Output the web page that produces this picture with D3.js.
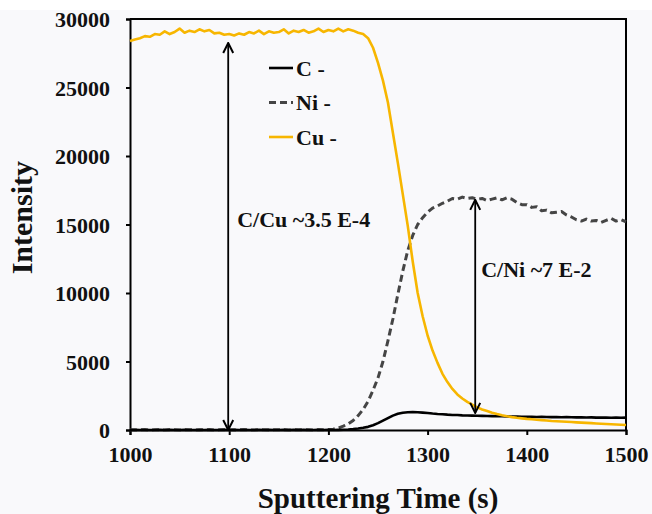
<!DOCTYPE html>
<html>
<head>
<meta charset="utf-8">
<script src="https://cdn.jsdelivr.net/npm/d3@7"></script>
<style>
  body { margin: 0; background: #ffffff; }
  svg { display: block; }
  .tick text { font-family: "Times New Roman", "Liberation Serif", Tinos, "DejaVu Serif", serif; font-weight: bold; font-size: 22px; fill: #111; }
  .lbl { font-family: "Times New Roman", "Liberation Serif", Tinos, "DejaVu Serif", serif; font-weight: bold; fill: #111; }
</style>
</head>
<body>
<div id="chart"></div>
<script>
// sputtering time (s), one reading every 5 s
let times = d3.range(101).map(i => 1000 + i * 5);

// Cu - counts
let cuValues = [
  28400, 28500, 28600, 28750, 28700, 28900, 28850, 29100, 28900, 29050,
  29300, 29000, 29150, 29050, 29250, 29100, 29200, 28950, 29000, 28850,
  28900, 28800, 28950, 28850, 29050, 28950, 29150, 28900, 29100, 29000,
  29050, 29250, 28950, 29150, 29050, 29200, 29000, 29100, 29300, 29050,
  29200, 29100, 29300, 29100, 29250, 29150, 29000, 28900, 28600, 27900,
  26800, 25500, 23900, 21700, 19500, 17200, 14900, 12300, 10000, 8300,
  6900, 5800, 4900, 4100, 3500, 3000, 2600, 2300, 2050, 1850,
  1650, 1500, 1380, 1260, 1160, 1070, 1000, 940, 890, 850,
  810, 780, 750, 720, 690, 660, 640, 620, 600, 580,
  560, 540, 520, 500, 480, 460, 440, 420, 400, 380, 360
];

// Ni - counts
let niValues = [
  10, 0, 20, 10, 0, 10, 20, 0, 10, 20,
  0, 10, 20, 10, 0, 20, 10, 0, 10, 20,
  10, 0, 20, 10, 10, 0, 20, 10, 0, 10,
  20, 10, 0, 20, 10, 20, 10, 0, 20, 10,
  30, 60, 150, 280, 450, 700, 1050, 1500, 2100, 2900,
  3800, 5000, 6500, 8100, 9900, 11600, 13100, 14200, 15000, 15500,
  15900, 16200, 16350, 16550, 16700, 16900, 16850, 17000, 16900, 16950,
  16850, 16900, 16750, 16850, 16950, 16800, 16950, 16850, 16600, 16450,
  16450, 16250, 16300, 16000, 16050, 15850, 15900, 15950, 15700, 15550,
  15350, 15250, 15400, 15250, 15300, 15150, 15300, 15450, 15250, 15350, 15200
];

// C - counts
let cValues = [
  0, 10, 0, 10, 0, 0, 10, 0, 10, 0,
  0, 10, 0, 0, 10, 0, 10, 0, 0, 10,
  0, 10, 0, 10, 0, 0, 10, 0, 10, 0,
  0, 10, 0, 10, 0, 10, 0, 0, 10, 0,
  10, 0, 10, 20, 40, 70, 110, 160, 230, 350,
  500, 680, 870, 1050, 1180, 1260, 1300, 1310, 1300, 1270,
  1240, 1200, 1170, 1150, 1120, 1100, 1090, 1070, 1060, 1050,
  1040, 1030, 1020, 1010, 1000, 1000, 990, 980, 980, 970,
  960, 970, 950, 960, 950, 940, 950, 930, 940, 930,
  920, 930, 910, 920, 900, 910, 900, 890, 900, 890, 900
];

let xTicks = [1000, 1100, 1200, 1300, 1400, 1500];
let yTicks = [0, 5000, 10000, 15000, 20000, 25000, 30000];

let seriesNames = ['C -', 'Ni -', 'Cu -'];
let seriesColors = ['#000000', '#454545', '#f7b600'];

// double-headed arrows: [time, from intensity, to intensity]
let arrowData = [[1099, 28250, 0], [1348, 16800, 1250]];
let noteTexts = ['C/Cu ~3.5 E-4', 'C/Ni ~7 E-2'];
let noteAnchors = [[1108, 14800], [1354, 11200]];

let width = 652, height = 514;
let margin = { top: 19, right: 26, bottom: 84, left: 130 };

let svg = d3.select('#chart')
  .append('svg')
  .attr('width', width)
  .attr('height', height);

svg.append('rect')
  .attr('x', 0).attr('y', 10)
  .attr('width', width).attr('height', height - 10)
  .attr('fill', '#f9f9fb');

let xScale = d3.scaleLinear()
  .domain([1000, 1500])
  .range([margin.left, width - margin.right]);

let yScale = d3.scaleLinear()
  .domain([0, 30000])
  .range([height - margin.bottom, margin.top]);

let defs = svg.append('defs');
defs.append('marker')
  .attr('id', 'head')
  .attr('viewBox', '0 0 12 12')
  .attr('refX', 11).attr('refY', 6)
  .attr('markerWidth', 12).attr('markerHeight', 12)
  .attr('markerUnits', 'userSpaceOnUse')
  .attr('orient', 'auto-start-reverse')
  .append('path')
  .attr('d', 'M1,1 L11,6 L1,11')
  .attr('fill', 'none')
  .attr('stroke', '#000')
  .attr('stroke-width', 2);

// frame top and right
svg.append('path')
  .attr('d', `M${xScale(1000)},${yScale(30000)} H${xScale(1500)} V${yScale(0)}`)
  .attr('fill', 'none')
  .attr('stroke', '#000')
  .attr('stroke-width', 2);

// axes
let xAxis = d3.axisBottom(xScale).tickValues(xTicks).tickSize(5).tickPadding(8).tickFormat(d3.format('d'));
svg.append('g')
  .attr('class', 'x axis')
  .attr('transform', `translate(0, ${yScale(0)})`)
  .call(xAxis);

let yAxis = d3.axisLeft(yScale).tickValues(yTicks).tickSize(4).tickPadding(16).tickFormat(d3.format('d'));
svg.append('g')
  .attr('class', 'y axis')
  .attr('transform', `translate(${xScale(1000)}, 0)`)
  .call(yAxis);

svg.selectAll('.axis').attr('font-family', null).attr('font-size', null);
svg.selectAll('.axis path, .axis line')
  .attr('stroke', '#000')
  .attr('stroke-width', 2);
svg.select('.y.axis').selectAll('.tick text').attr('dy', '0.36em');
svg.select('.x.axis').selectAll('.tick text').attr('dy', '0.85em');

// data lines
let line = d3.line()
  .x(d => xScale(d[0]))
  .y(d => yScale(d[1]));

let allSeries = [cValues, niValues, cuValues];
let drawOrder = [1, 0, 2];
drawOrder.forEach(i => {
  svg.append('path')
    .datum(times.map((t, j) => [t, allSeries[i][j]]))
    .attr('fill', 'none')
    .attr('stroke', seriesColors[i])
    .attr('stroke-width', i == 1 ? 3 : 2.6)
    .attr('stroke-dasharray', i == 1 ? '7,4' : null)
    .attr('stroke-linejoin', 'round')
    .attr('d', line);
});

// arrows
svg.selectAll('.arrow')
  .data(arrowData)
  .enter()
  .append('line')
    .attr('class', 'arrow')
    .attr('x1', d => xScale(d[0]))
    .attr('x2', d => xScale(d[0]))
    .attr('y1', d => yScale(d[1]))
    .attr('y2', d => yScale(d[2]))
    .attr('stroke', '#000')
    .attr('stroke-width', 1.8)
    .attr('marker-start', 'url(#head)')
    .attr('marker-end', 'url(#head)');

// ratio notes
svg.selectAll('.note')
  .data(noteTexts)
  .enter()
  .append('text')
    .attr('class', 'lbl note')
    .attr('x', (d, i) => xScale(noteAnchors[i][0]))
    .attr('y', (d, i) => yScale(noteAnchors[i][1]))
    .style('font-size', '22px')
    .text(d => d);

// legend
let legend = svg.append('g')
  .attr('transform', 'translate(269, 68)');
seriesNames.forEach((name, i) => {
  legend.append('line')
    .attr('x1', 0).attr('x2', 24)
    .attr('y1', i * 34.5).attr('y2', i * 34.5)
    .attr('stroke', seriesColors[i])
    .attr('stroke-width', i == 1 ? 3 : 2.6)
    .attr('stroke-dasharray', i == 1 ? '7,4' : null);
  legend.append('text')
    .attr('class', 'lbl')
    .attr('x', 27)
    .attr('y', i * 34.5 + 7.5)
    .style('font-size', '22px')
    .text(name);
});

// axis titles
svg.append('text')
  .attr('class', 'lbl')
  .attr('x', (xScale(1000) + xScale(1500)) / 2)
  .attr('y', 508)
  .style('text-anchor', 'middle')
  .style('font-size', '29px')
  .text('Sputtering Time (s)');

svg.append('text')
  .attr('class', 'lbl')
  .attr('transform', `translate(32, ${yScale(15500)}) rotate(-90)`)
  .style('text-anchor', 'middle')
  .style('font-size', '30px')
  .text('Intensity');
</script>
</body>
</html>
